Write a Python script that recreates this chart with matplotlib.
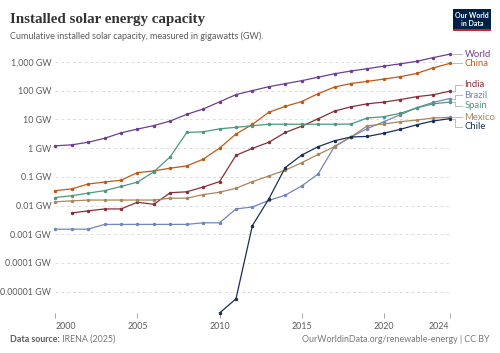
import numpy as np
import matplotlib
matplotlib.use("Agg")
import matplotlib.pyplot as plt
from matplotlib.patches import Rectangle

years = list(range(2000, 2025))
nan = np.nan
world = [1.2, 1.3, 1.6, 2.2, 3.4, 4.6, 6.1, 8.8, 15, 23, 41, 73, 101, 138, 176,
         223, 296, 390, 484, 586, 719, 862, 1053, 1418, 1865]
china = [0.033, 0.038, 0.056, 0.066, 0.076, 0.14, 0.16, 0.2, 0.24, 0.41, 1.0, 3.1,
         6.7, 17.8, 28.4, 42, 79, 134, 178, 212, 254, 307, 400, 620, 890]
india = [nan, 0.0055, 0.0065, 0.0076, 0.0076, 0.013, 0.011, 0.028, 0.030, 0.044,
         0.068, 0.56, 0.98, 1.6, 3.5, 5.8, 10.5, 19.5, 27.5, 35, 40, 49, 62, 72, 96]
brazil = [0.0015, 0.0015, 0.0015, 0.0022, 0.0022, 0.0022, 0.0022, 0.0022, 0.0022,
          0.0025, 0.0025, 0.0076, 0.0089, 0.015, 0.023, 0.048, 0.125, 1.15, 2.45,
          4.8, 8.3, 14.5, 25.5, 39, 53]
spain = [0.019, 0.022, 0.027, 0.033, 0.046, 0.065, 0.15, 0.5, 3.5, 3.7, 4.7, 5.3,
         6.0, 6.8, 6.8, 6.8, 6.8, 6.8, 6.9, 11.2, 12.4, 16.3, 25, 35, 40]
mexico = [0.0135, 0.0145, 0.0155, 0.0155, 0.0155, 0.0155, 0.0155, 0.018, 0.018,
          0.024, 0.029, 0.040, 0.068, 0.107, 0.17, 0.31, 0.6, 1.12, 2.45, 6.0, 6.9,
          8.3, 9.5, 11.2, 11.8]
chile = [nan] * 10 + [1.8e-6, 5.6e-6, 0.002, 0.017, 0.21, 0.57, 1.12, 1.8, 2.45,
                      2.55, 3.3, 4.5, 6.5, 8.8, 10.6]

series = [
    ("World", world, "#6D3E91"),
    ("China", china, "#C05917"),
    ("India", india, "#883039"),
    ("Brazil", brazil, "#7384BE"),
    ("Spain", spain, "#4A9A7E"),
    ("Mexico", mexico, "#A8875C"),
    ("Chile", chile, "#1B2F55"),
]

ytick_vals = [1e3, 1e2, 1e1, 1, 0.1, 0.01, 0.001, 0.0001, 0.00001]
ytick_labels = ["1,000 GW", "100 GW", "10 GW", "1 GW", "0.1 GW", "0.01 GW",
                "0.001 GW", "0.0001 GW", "0.00001 GW"]
xtick_vals = [2000, 2005, 2010, 2015, 2020, 2024]

W, H = 500, 353
fig = plt.figure(figsize=(W / 100, H / 100), dpi=100)
fig.patch.set_facecolor("white")
plt.rcParams['font.family'] = ['Lato', 'DejaVu Sans']

left_px, right_px, top_px, bot_px = 55.3, 449.5, 54, 313
ax = fig.add_axes([left_px / W, 1 - bot_px / H, (right_px - left_px) / W,
                   (bot_px - top_px) / H])
ax.set_yscale("log")
ax.set_xlim(2000, 2024)
ax.set_ylim(1.8e-6, 1900)
for s in ax.spines.values():
    s.set_visible(False)
ax.set_yticks(ytick_vals)
ax.set_yticklabels(ytick_labels)
ax.yaxis.set_minor_locator(matplotlib.ticker.NullLocator())
ax.tick_params(axis="y", length=0, pad=3, labelsize=6.4, labelcolor="#5b5b5b")
ax.set_xticks(xtick_vals)
ax.set_xticklabels([str(v) for v in xtick_vals])
ax.tick_params(axis="x", length=3.5, width=0.6, color="#999999", pad=3,
               labelsize=6.4, labelcolor="#5b5b5b")
xl = ax.get_xticklabels()
xl[0].set_ha("left")
xl[-1].set_ha("right")
ax.grid(axis="y", color="#dcdcdc", linestyle=(0, (3, 3)), linewidth=0.7)
ax.set_axisbelow(True)

for name, vals, col in series:
    ax.plot(years, vals, color=col, linewidth=0.9, marker="o", markersize=1.5,
            clip_on=False, zorder=3)

# label placement
fig.canvas.draw()
ends = []
for name, vals, col in series:
    yv = vals[-1]
    disp = ax.transData.transform((years[-1], yv))
    ends.append((H - disp[1], name, col, disp))
ends.sort(key=lambda t: t[0])
gap = 10.5


def pos(c):
    m = np.mean([x[0] for x in c])
    n = len(c)
    return [m + (i - (n - 1) / 2) * gap for i in range(n)]


clusters = []
for e in ends:
    clusters.append([e])
    while len(clusters) > 1:
        a, b = clusters[-2], clusters[-1]
        pa, pb = pos(a), pos(b)
        if pb[0] - pa[-1] < gap:
            clusters[-2:] = [a + b]
        else:
            break
for c in clusters:
    ps = pos(c)
    for ylab, (yend, name, col, disp) in zip(ps, c):
        x0 = disp[0] + 2
        xe = 455
        xlb = 462
        if abs(ylab - yend) < 1.5:
            xs = [x0, xlb]
            ys = [yend, yend]
            ylab = yend
        else:
            xs = [x0, xe, xe, xlb]
            ys = [yend, yend, ylab, ylab]
        fig.add_artist(plt.Line2D([x / W for x in xs], [1 - y / H for y in ys],
                                  color="#bbbbbb", linewidth=0.7))
        fig.text(464.5 / W, 1 - ylab / H, name, color=col, fontsize=6.8,
                 ha="left", va="center")

# title & subtitle
fig.text(10 / W, 1 - 19 / H, "Installed solar energy capacity",
         family=["Liberation Serif"], fontweight="bold", fontsize=10.8,
         color="#333333", ha="left", va="center")
fig.text(10 / W, 1 - 36 / H,
         "Cumulative installed solar capacity, measured in gigawatts (GW).",
         fontsize=6.5, color="#5b5b5b", ha="left", va="center")

# logo
fig.add_artist(Rectangle((453 / W, 1 - 31 / H), 38 / W, 22 / H,
                         transform=fig.transFigure, facecolor="#002147",
                         edgecolor="none"))
fig.add_artist(Rectangle((453 / W, 1 - 31 / H), 38 / W, 1.6 / H,
                         transform=fig.transFigure, facecolor="#CE261E",
                         edgecolor="none"))
fig.text(472 / W, 1 - 16 / H, "Our World", color="white", fontsize=5,
         fontweight="bold", ha="center", va="center")
fig.text(472 / W, 1 - 23 / H, "in Data", color="white", fontsize=5,
         fontweight="bold", ha="center", va="center")

# footer
t1 = fig.text(10 / W, 1 - 339 / H, "Data source:", fontsize=6.4,
              fontweight="bold", color="#5b5b5b", ha="left", va="center")
ax.annotate(" IRENA (2025)", xy=(1, 0.5), xycoords=t1, fontsize=6.4,
            color="#777777", ha="left", va="center", annotation_clip=False)
fig.text(489 / W, 1 - 339 / H, "OurWorldinData.org/renewable-energy | CC BY",
         fontsize=6.4, color="#777777", ha="right", va="center")

fig.savefig("out.png", dpi=100, facecolor="white")
